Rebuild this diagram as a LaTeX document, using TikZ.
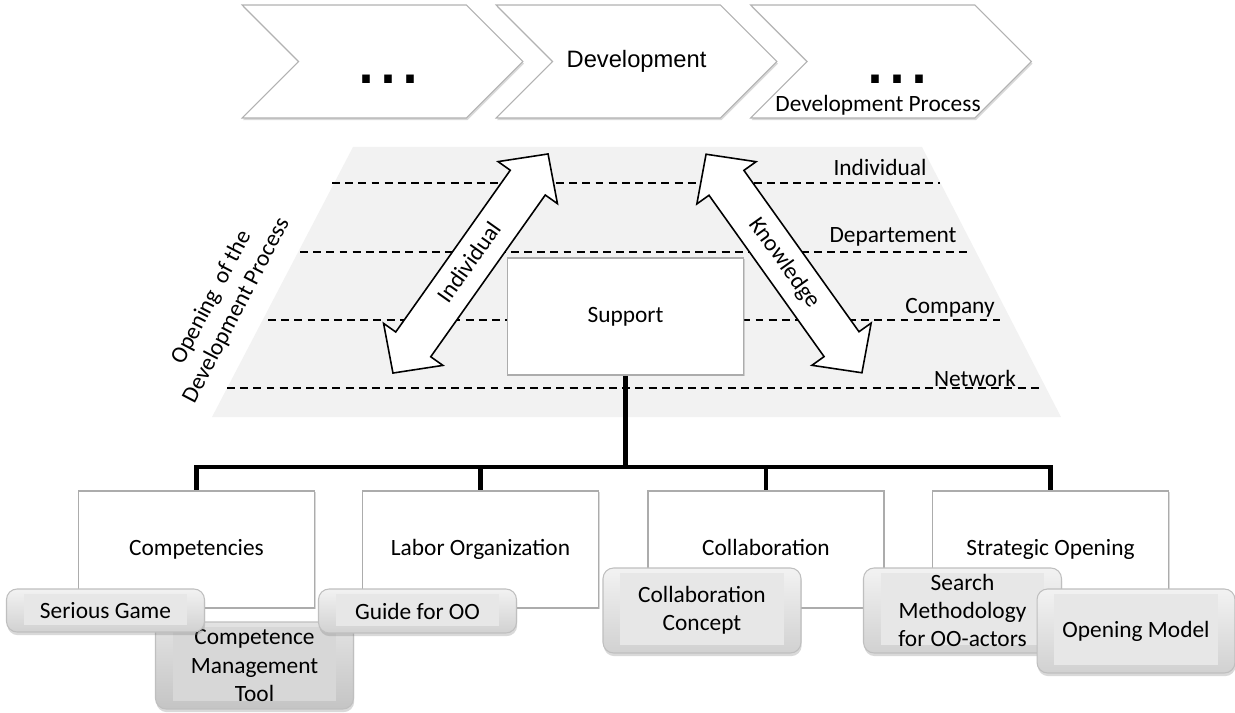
\documentclass[tikz,border=0pt]{standalone}
\usepackage{fontspec}
\setmainfont{Carlito}
\newfontfamily\arialfont{Liberation Sans}
\usepackage{tikz}
\usetikzlibrary{shapes}
\usetikzlibrary{shapes.symbols}
\usetikzlibrary{shapes.arrows}
\usetikzlibrary{shadows}
\usetikzlibrary{positioning}
\newcommand{\diagfont}{\fontsize{13.3}{16}\selectfont}
\tikzset{
    chev/.style = {signal, signal from=west, signal to=east, draw=gray!60, fill=white, line width=0.6pt, minimum width=5.62cm, minimum height=2.26cm, drop shadow={shadow xshift=0.6pt, shadow yshift=-1.2pt, opacity=0.3}},
    dots/.style = {inner sep=0pt, font=\arialfont\fontsize{45}{45}\selectfont},
    lvl/.style = {inner sep=1pt, font=\diagfont},
    levelline/.style = {dash pattern=on 4.5pt off 3pt, line width=0.9pt},
    box/.style = {rectangle, draw=gray!65, fill=white, line width=0.7pt, minimum width=4.72cm, minimum height=2.34cm, text height=9.5pt, text depth=3pt, font=\diagfont, drop shadow={shadow xshift=0.8pt, shadow yshift=-0.8pt, opacity=0.3}},
    darr/.style = {double arrow, draw=black, fill=white, line width=0.9pt, double arrow head extend=8.5pt, double arrow tip angle=92, minimum height=5.37cm, text height=9.5pt, text depth=3pt, inner xsep=0pt, inner ysep=5.5pt, font=\diagfont},
    treeline/.style = {line width=2.3pt},
    bevel/.style = {path picture={\fill[#1, sharp corners] ([xshift=0.34cm,yshift=-0.1cm]path picture bounding box.north west) rectangle ([xshift=-0.34cm,yshift=0.15cm]path picture bounding box.south east);}},
    btn/.style = {rectangle, rounded corners=6pt, draw=gray!50, line width=0.6pt, top color=gray!10, bottom color=gray!36, minimum width=3.96cm, align=center, inner sep=0pt, font=\diagfont,
        drop shadow={shadow xshift=0.4pt, shadow yshift=-1.8pt, opacity=0.3}, bevel=gray!19},
    btndark/.style = {btn, top color=gray!22, bottom color=gray!46, bevel=gray!31}
}

\begin{document}
\begin{tikzpicture}[x=0.02cm, y=-0.02cm]
\useasboundingbox (0, 0) rectangle (1235, 713);
%
% process chevrons
\node[chev] at (382.5, 61.5) (ch1) {};
\node[chev, font=\arialfont\fontsize{13.5}{16}\selectfont] at (636.5, 61.5) (ch2) {Development};
\node[chev] at (891, 61.5) (ch3) {};
\node[dots] at (388, 79) (dots1) {...};
\node[dots] at (897, 79) (dots3) {...};
\node[lvl] at (878, 105) (devproc) {Development Process};
%
% opening levels
\fill[gray!10] (353, 147) -- (922, 147) -- (1061, 417) -- (212, 417) -- cycle;
\draw[levelline] (332, 183) -- (940, 183);
\draw[levelline] (300, 252) -- (970, 252);
\draw[levelline] (268, 320) -- (1000, 320);
\draw[levelline] (227, 388) -- (1042, 388);
\node[lvl] at (880, 167) (lind) {Individual};
\node[lvl] at (893, 237) (ldep) {Departement};
\node[lvl] at (950, 308) (lcomp) {Company};
\node[lvl] at (975, 378) (lnet) {Network};
\node[lvl, rotate=62.4, align=center] at (224, 304) (opening) {Opening\ \ of the\\Development Process};
%
% support and exchange arrows
\node[box] at (625.5, 316.5) (support) {Support};
\node[darr, rotate=54.7] at (470.5, 263.5) (aind) {Individual};
\node[darr, rotate=-54.5] at (784, 263.5) (aknow) {Knowledge};
%
% fields
\node[box] at (196.5, 549.5) (comp) {Competencies};
\node[box] at (480.5, 549.5) (labor) {Labor Organization};
\node[box] at (766, 549.5) (collab) {Collaboration};
\node[box] at (1050.5, 549.5) (strat) {Strategic Opening};
\coordinate (fork) at (625.5, 467);
\draw[treeline] (support.south) -- (fork);
\foreach \f in {comp, labor, collab, strat}
    \draw[treeline] (fork) -| (\f.north);
%
% tools
\node[btndark, minimum height=1.74cm] at (254.5, 665.5) (cmt) {Competence\\Management\\Tool};
\node[btn, minimum height=0.86cm] at (105.5, 610.5) (sgame) {Serious Game};
\node[btn, minimum height=0.88cm] at (417.5, 611) (guide) {Guide for OO};
\node[btn, minimum height=1.7cm] at (702, 610.5) (cconcept) {Collaboration\\Concept};
\node[btn, minimum height=1.7cm] at (962.5, 610.5) (search) {Search\\Methodology\\for OO-actors};
\node[btn, minimum height=1.68cm] at (1136, 631) (omodel) {Opening Model};

\end{tikzpicture}
\end{document}
